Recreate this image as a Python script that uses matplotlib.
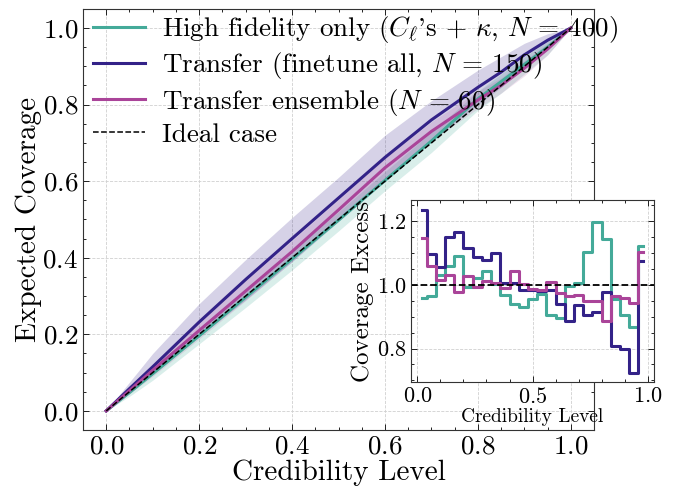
import numpy as np
import matplotlib
matplotlib.use("Agg")
import matplotlib.pyplot as plt

plt.rcParams["font.family"] = "serif"
plt.rcParams["font.serif"] = ["cmr10", "DejaVu Serif"]
plt.rcParams["mathtext.fontset"] = "cm"
plt.rcParams["axes.formatter.use_mathtext"] = True
plt.rcParams["axes.unicode_minus"] = False

# colours (Tol muted)
c_hf = "#44AA99"
c_tr = "#332288"
c_ens = "#AA4499"

# main panel: expected coverage vs credibility level
cred = [0, 0.05, 0.1, 0.2, 0.3, 0.4, 0.5, 0.6, 0.7, 0.8, 0.85, 0.9, 0.95, 1.0]

hf_cov = [0, 0.048, 0.097, 0.196, 0.297, 0.397, 0.498, 0.602, 0.705, 0.815, 0.86, 0.905, 0.95, 1.0]
hf_hi = [0, 0.055, 0.11, 0.215, 0.318, 0.418, 0.52, 0.625, 0.728, 0.835, 0.88, 0.925, 0.965, 1.0]
hf_lo = [0, 0.038, 0.08, 0.175, 0.27, 0.368, 0.47, 0.575, 0.675, 0.785, 0.83, 0.88, 0.93, 1.0]

tr_cov = [0, 0.058, 0.115, 0.232, 0.343, 0.450, 0.556, 0.662, 0.760, 0.845, 0.885, 0.93, 0.968, 1.0]
tr_hi = [0, 0.075, 0.15, 0.28, 0.395, 0.505, 0.61, 0.72, 0.81, 0.89, 0.925, 0.96, 0.985, 1.0]
tr_lo = [0, 0.045, 0.095, 0.195, 0.29, 0.39, 0.495, 0.6, 0.705, 0.8, 0.845, 0.9, 0.95, 1.0]

ens_cov = [0, 0.053, 0.106, 0.21, 0.313, 0.416, 0.525, 0.635, 0.73, 0.812, 0.85, 0.895, 0.945, 1.0]
ens_hi = [0, 0.06, 0.12, 0.232, 0.34, 0.445, 0.552, 0.66, 0.755, 0.835, 0.87, 0.915, 0.96, 1.0]
ens_lo = [0, 0.045, 0.09, 0.188, 0.288, 0.39, 0.498, 0.605, 0.705, 0.79, 0.83, 0.875, 0.93, 1.0]

# inset: coverage excess per credibility bin
bins = [0.02, 0.06, 0.10, 0.14, 0.18, 0.22, 0.26, 0.30, 0.34, 0.38, 0.42, 0.46, 0.50,
        0.54, 0.58, 0.62, 0.66, 0.70, 0.74, 0.78, 0.82, 0.86, 0.90, 0.94, 0.98]
hf_exc = [0.960, 0.964, 1.032, 1.058, 1.089, 0.994, 1.022, 1.042, 1.003, 0.967, 0.940, 0.930, 0.954,
          0.971, 0.905, 0.897, 0.996, 1.004, 1.103, 1.196, 1.144, 0.955, 0.905, 0.867, 1.120]
tr_exc = [1.234, 1.098, 1.056, 1.149, 1.164, 1.115, 1.088, 1.077, 1.099, 1.004, 1.004, 0.982, 0.984,
          0.980, 0.985, 0.939, 0.887, 0.935, 0.904, 0.916, 0.978, 0.808, 0.799, 0.722, 1.073]
ens_exc = [1.146, 1.058, 1.016, 1.032, 0.978, 1.029, 0.994, 1.011, 1.004, 0.991, 1.042, 1.001, 0.988,
           0.982, 1.010, 0.975, 0.965, 0.968, 0.950, 0.950, 0.885, 0.965, 0.960, 0.942, 1.103]


def style_axes(ax, size):
    ax.tick_params(which="both", direction="in", top=True, right=True, labelsize=size)
    ax.tick_params(which="major", length=4, width=0.6)
    ax.tick_params(which="minor", length=2, width=0.6)
    for s in ax.spines.values():
        s.set_linewidth(0.8)
        s.set_color("#333333")
    ax.grid(True, ls="--", lw=0.6, color="#d0d0d0")
    ax.set_axisbelow(True)


fig = plt.figure(figsize=(6.76, 4.92), dpi=100)
ax = fig.add_axes([0.1228, 0.126, 0.756, 0.856])

ax.fill_between(cred, hf_lo, hf_hi, color=c_hf, alpha=0.2, lw=0)
ax.fill_between(cred, tr_lo, tr_hi, color=c_tr, alpha=0.2, lw=0)
ax.fill_between(cred, ens_lo, ens_hi, color=c_ens, alpha=0.15, lw=0)
ax.plot(cred, hf_cov, color=c_hf, lw=2.2, label=r"High fidelity only ($C_\ell$'s $+$ $\kappa$, $N\,=\,400$)")
ax.plot(cred, tr_cov, color=c_tr, lw=2.2, label=r"Transfer (finetune all, $N\,=\,150$)")
ax.plot(cred, ens_cov, color=c_ens, lw=2.2, label=r"Transfer ensemble ($N\,=\,60$)")
ax.plot([0, 1], [0, 1], "k--", lw=1.1, label="Ideal case")

ax.set_xticks(np.arange(0, 1.01, 0.2))
ax.set_yticks(np.arange(0, 1.01, 0.2))
ax.set_xticks(np.arange(0, 1.01, 0.05), minor=True)
ax.set_yticks(np.arange(0, 1.01, 0.05), minor=True)
style_axes(ax, 19.5)
ax.set_xlabel("Credibility Level", fontsize=21, labelpad=1)
ax.set_ylabel("Expected Coverage", fontsize=21, labelpad=0)
ax.legend(loc="upper left", bbox_to_anchor=(0.02, 0.987), frameon=False, fontsize=19.5,
          handlelength=1.9, handletextpad=0.63, labelspacing=0.19, borderaxespad=0, borderpad=0)

ins = fig.add_axes([0.608, 0.2236, 0.3595, 0.37])
ins.plot(bins, hf_exc, color=c_hf, lw=2.2, drawstyle="steps-mid")
ins.plot(bins, tr_exc, color=c_tr, lw=2.2, drawstyle="steps-mid")
ins.plot(bins, ens_exc, color=c_ens, lw=2.2, drawstyle="steps-mid")
ins.axhline(1.0, color="k", ls="--", lw=1.3)
ins.set_xticks([0, 0.5, 1.0])
ins.set_xticks(np.arange(0, 1.01, 0.1), minor=True)
ins.set_yticks([0.8, 1.0, 1.2])
ins.set_yticks(np.arange(0.7, 1.26, 0.05), minor=True)
ins.set_ylim(0.695, 1.266)
ins.set_xlim(-0.028, 1.028)
style_axes(ins, 16)
ins.set_xlabel("Credibility Level", fontsize=14, labelpad=1)
ins.set_ylabel("Coverage Excess", fontsize=18, labelpad=2)

fig.savefig("out.png", dpi=100)
